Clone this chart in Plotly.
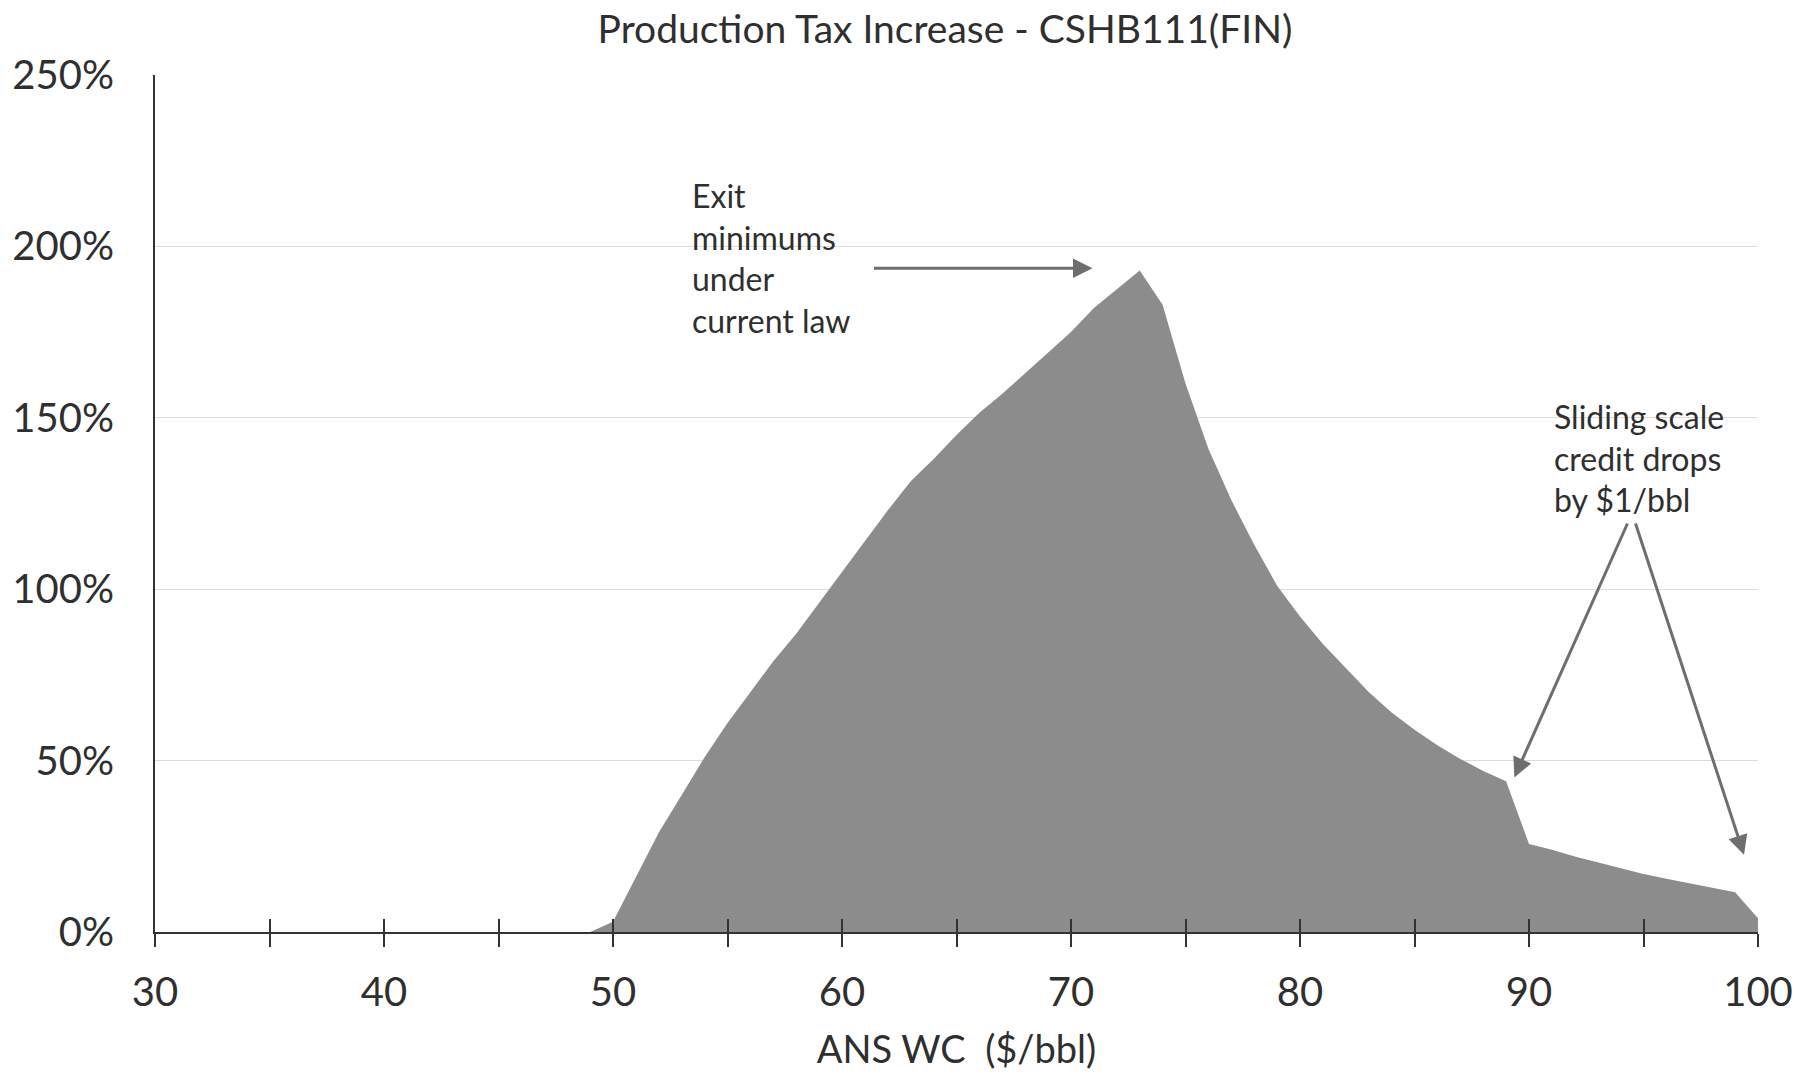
import plotly.graph_objects as go

# ---- data ----
price = list(range(30, 101))
tax_increase = [0] * 20 + [
    3, 16, 29, 40, 51, 61, 70, 79, 87, 96, 105, 114, 123, 131.5, 138, 145,
    151.5, 157, 163, 169, 175, 182, 187.5, 193,
    183, 160, 141, 126, 113, 101, 92, 84, 77, 70, 64, 59, 54.5, 50.5, 47, 44,
    25.7, 24, 22, 20.3, 18.5, 16.9, 15.5, 14.2, 12.9, 11.6, 4,
]
x_tickvals = list(range(30, 101, 5))
x_ticktext = [str(v) if v % 10 == 0 else "" for v in x_tickvals]
y_tickvals = [0, 50, 100, 150, 200, 250]
y_ticktext = [f"{v}%" for v in y_tickvals]

title_text = "Production Tax Increase - CSHB111(FIN)"
x_title = "ANS WC\u00a0 ($/bbl)"
note_exit = "Exit<br>minimums<br>under<br>current law"
note_slide = "Sliding scale<br>credit drops<br>by $1/bbl"

FONT = "Lato"
TXT = "#2f2f2f"
FILL = "#8c8c8c"
ARROW = "#6e6e6e"

fig = go.Figure()
fig.add_trace(go.Scatter(
    x=price, y=tax_increase, mode="lines", fill="tozeroy",
    line=dict(width=0, color=FILL), fillcolor=FILL, showlegend=False,
    hoverinfo="skip",
))

fig.update_layout(
    width=1805, height=1076,
    margin=dict(l=148, r=38, t=75, b=135),
    paper_bgcolor="white", plot_bgcolor="white",
    showlegend=False,
    font=dict(family=FONT, color=TXT),
    title=dict(text=title_text, x=945 / 1805, xref="container", xanchor="center",
               y=1 - 29 / 1076, yref="container", yanchor="middle",
               font=dict(size=39, family=FONT, color=TXT)),
    xaxis=dict(
        range=[30, 100], tickvals=x_tickvals, ticktext=x_ticktext,
        ticks="outside", ticklen=13, tickwidth=2, tickcolor="#333333",
        showline=True, linecolor="#333333", linewidth=2,
        showgrid=False, zeroline=False,
        tickfont=dict(size=40, family=FONT, color=TXT),
        ticklabelstandoff=11,
        title=dict(text=x_title, font=dict(size=38, family=FONT, color=TXT), standoff=22),
    ),
    xaxis2=dict(
        range=[30, 100], overlaying="x", anchor="y", side="bottom",
        tickvals=x_tickvals, ticks="inside", ticklen=13, tickwidth=2,
        tickcolor="#333333", showticklabels=False, showline=False,
        showgrid=False, zeroline=False,
    ),
    yaxis=dict(
        range=[0, 250], tickvals=y_tickvals, ticktext=y_ticktext,
        ticks="", showline=True, linecolor="#333333", linewidth=2,
        showgrid=True, gridcolor="#dcdcdc", gridwidth=1, zeroline=False,
        tickfont=dict(size=40, family=FONT, color=TXT),
        ticklabelstandoff=31,
    ),
)
fig.add_trace(go.Scatter(x=[30, 100], y=[None, None], xaxis="x2", yaxis="y",
                         showlegend=False, hoverinfo="skip"))

# annotations
fig.add_annotation(x=53.35, y=196.7, xref="x", yref="y", text=note_exit, showarrow=False,
                   xanchor="left", yanchor="middle", align="left",
                   font=dict(size=32, family=FONT, color=TXT))
fig.add_annotation(x=90.99, y=138.4, xref="x", yref="y", text=note_slide, showarrow=False,
                   xanchor="left", yanchor="middle", align="left",
                   font=dict(size=32, family=FONT, color=TXT))

arrows = [
    # (tail_x, tail_y, tip_x, tip_y)
    (61.33, 193.6, 70.94, 193.6),
    (94.33, 119.6, 89.36, 45.1),
    (94.63, 119.6, 99.39, 22.5),
]
for tx, ty, hx, hy in arrows:
    fig.add_annotation(x=hx, y=hy, ax=tx, ay=ty, xref="x", yref="y", axref="x", ayref="y",
                       text="", showarrow=True, arrowhead=2, arrowsize=1.3,
                       arrowwidth=3, arrowcolor=ARROW, standoff=0)

fig.write_html("out.html")
